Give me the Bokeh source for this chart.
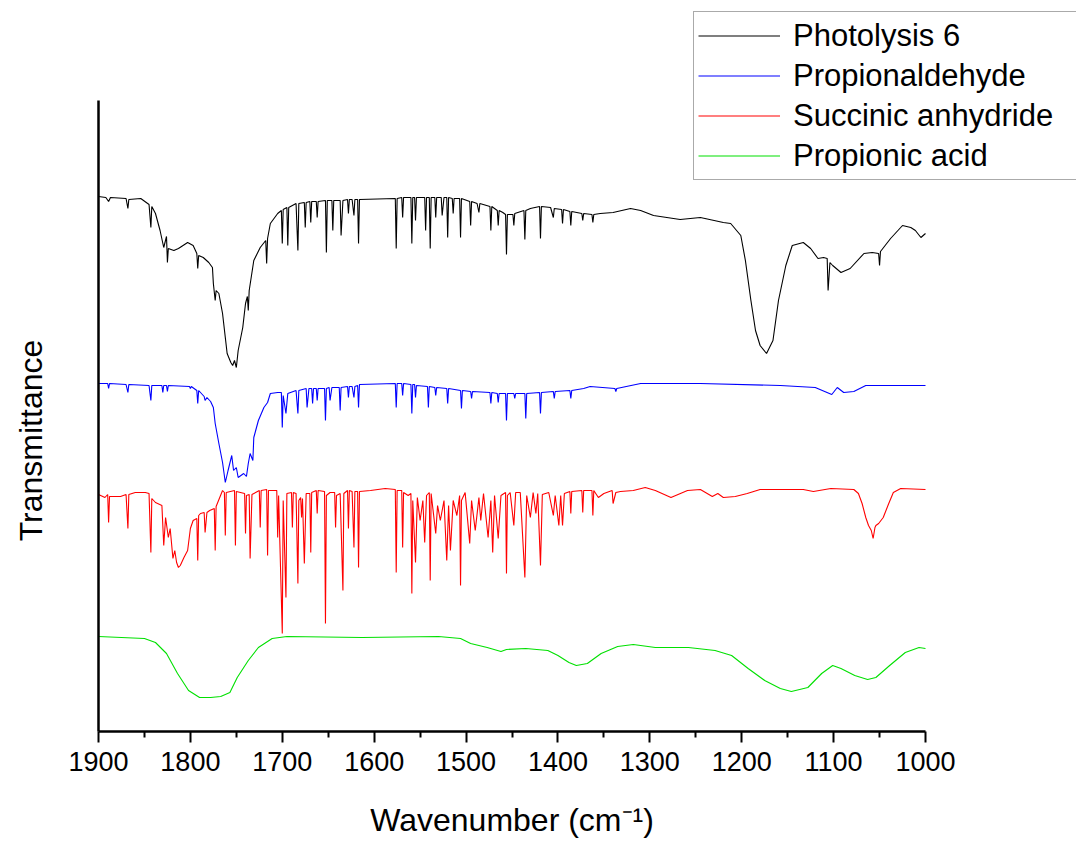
import math
from bokeh.plotting import figure
from bokeh.models import (Range1d, FixedTicker, Legend, LegendItem, ColumnDataSource,
                          LinearAxis, Label)
from bokeh.embed import file_html
from bokeh.resources import INLINE

# ---- data: wavenumber (cm-1), offset transmittance (arbitrary units) ----
PHOTOLYSIS_6 = [
    (1900, 535), (1892, 534), (1889, 530), (1887, 534), (1870, 533), (1868, 523), (1867, 532),
    (1854, 533), (1845, 527), (1843, 504), (1842, 525), (1838, 518), (1833, 501), (1829, 484),
    (1826, 495), (1825, 469), (1824, 483), (1818, 481), (1813, 483), (1803, 489), (1797, 486),
    (1793, 478), (1792, 463), (1791, 476), (1786, 474), (1780, 469), (1776, 464), (1775, 448),
    (1773, 431), (1772, 441), (1769, 438), (1765, 418), (1762, 394), (1760, 378), (1756, 369),
    (1754, 366), (1752, 371), (1750, 364), (1748, 381), (1743, 404), (1740, 428), (1738, 435),
    (1737, 421), (1736, 441), (1731, 471), (1724, 484), (1718, 491), (1717, 468), (1716, 493),
    (1713, 508), (1705, 518), (1701, 521), (1700, 488), (1699, 522), (1695, 524), (1694, 486),
    (1693, 524), (1685, 528), (1683, 481), (1682, 528), (1676, 529), (1675, 504), (1674, 529),
    (1670, 530), (1669, 509), (1668, 530), (1663, 530), (1662, 514), (1661, 530), (1653, 531),
    (1652, 479), (1651, 531), (1646, 531), (1645, 501), (1644, 531), (1637, 531), (1636, 496),
    (1634, 531), (1629, 532), (1628, 518), (1627, 532), (1624, 532), (1622, 516), (1621, 532),
    (1618, 532), (1617, 488), (1616, 532), (1577, 533), (1576, 483), (1575, 533), (1570, 534),
    (1569, 514), (1568, 534), (1560, 534), (1559, 488), (1558, 534), (1556, 534), (1555, 511),
    (1554, 534), (1545, 534), (1544, 501), (1543, 534), (1540, 534), (1539, 483), (1538, 534),
    (1534, 534), (1533, 514), (1532, 534), (1527, 534), (1526, 516), (1524, 534), (1521, 534),
    (1520, 494), (1519, 534), (1515, 533), (1514, 518), (1513, 533), (1507, 533), (1506, 494),
    (1505, 533), (1496, 530), (1495, 506), (1494, 530), (1488, 528), (1486, 519), (1485, 528),
    (1474, 525), (1473, 501), (1472, 525), (1466, 521), (1465, 506), (1464, 521), (1460, 519),
    (1457, 517), (1456, 477), (1455, 517), (1449, 517), (1448, 506), (1447, 518), (1437, 521),
    (1436, 492), (1435, 521), (1430, 523), (1420, 525), (1419, 493), (1418, 525), (1408, 524),
    (1405, 514), (1404, 523), (1396, 522), (1395, 508), (1394, 522), (1387, 520), (1386, 506),
    (1385, 520), (1374, 518), (1373, 511), (1372, 518), (1363, 517), (1362, 509), (1361, 517),
    (1354, 518), (1340, 519), (1321, 523), (1310, 521), (1296, 516), (1267, 512), (1245, 514),
    (1220, 509), (1212, 508), (1201, 496), (1196, 471), (1190, 431), (1185, 401), (1180, 386),
    (1173, 378), (1166, 391), (1160, 431), (1152, 466), (1145, 486), (1133, 489), (1125, 483),
    (1117, 473), (1111, 474), (1107, 473), (1106, 441), (1104, 469), (1101, 466), (1092, 459),
    (1082, 463), (1067, 478), (1058, 479), (1051, 478), (1050, 466), (1049, 480), (1038, 493),
    (1025, 506), (1016, 504), (1011, 501), (1005, 494), (1000, 498),
]

PROPIONALDEHYDE = [
    (1900, 348), (1890, 348), (1889, 343), (1888, 348), (1870, 347), (1868, 339), (1867, 347),
    (1845, 346), (1843, 331), (1842, 346), (1831, 346), (1830, 339), (1829, 346), (1826, 346),
    (1825, 340), (1824, 346), (1801, 345), (1800, 343), (1799, 345), (1793, 341), (1792, 328),
    (1791, 341), (1785, 335), (1784, 331), (1782, 334), (1778, 330), (1775, 324), (1773, 308),
    (1769, 288), (1765, 269), (1762, 249), (1759, 261), (1755, 276), (1753, 261), (1750, 264),
    (1748, 254), (1742, 258), (1739, 255), (1737, 268), (1735, 278), (1732, 271), (1731, 294),
    (1726, 311), (1720, 324), (1716, 329), (1713, 338), (1705, 339), (1701, 339), (1700, 304),
    (1699, 336), (1696, 318), (1694, 338), (1685, 341), (1683, 318), (1682, 341), (1674, 343),
    (1673, 324), (1671, 343), (1668, 343), (1667, 328), (1666, 343), (1663, 343), (1662, 331),
    (1661, 343), (1654, 343), (1653, 311), (1652, 343), (1649, 344), (1648, 331), (1646, 344),
    (1638, 344), (1637, 321), (1636, 344), (1629, 345), (1628, 334), (1627, 345), (1624, 345),
    (1622, 334), (1621, 345), (1618, 346), (1617, 324), (1616, 347), (1577, 348), (1576, 324),
    (1575, 348), (1570, 348), (1569, 336), (1568, 348), (1560, 347), (1559, 318), (1558, 347),
    (1556, 347), (1555, 334), (1554, 346), (1542, 345), (1541, 324), (1540, 345), (1534, 344),
    (1533, 336), (1532, 344), (1521, 343), (1520, 328), (1519, 343), (1506, 341), (1505, 323),
    (1504, 341), (1495, 340), (1494, 333), (1493, 340), (1474, 339), (1473, 328), (1472, 339),
    (1466, 338), (1465, 329), (1464, 338), (1457, 338), (1456, 311), (1455, 338), (1448, 338),
    (1447, 333), (1446, 338), (1436, 338), (1435, 313), (1434, 338), (1420, 339), (1419, 318),
    (1418, 339), (1405, 340), (1404, 333), (1403, 340), (1387, 341), (1386, 333), (1385, 341),
    (1372, 343), (1365, 345), (1338, 343), (1337, 340), (1336, 343), (1310, 348), (1245, 348),
    (1158, 346), (1120, 344), (1102, 337), (1096, 344), (1089, 339), (1078, 340), (1065, 346),
    (1000, 346),
]

SUCCINIC_ANHYDRIDE = [
    (1900, 237), (1893, 234), (1890, 237), (1889, 209), (1888, 235), (1876, 235), (1870, 237),
    (1868, 203), (1867, 237), (1860, 239), (1849, 239), (1845, 238), (1843, 179), (1842, 233),
    (1838, 229), (1831, 226), (1829, 186), (1827, 214), (1824, 194), (1822, 203), (1819, 173),
    (1817, 181), (1815, 169), (1813, 164), (1811, 166), (1807, 174), (1803, 181), (1800, 203),
    (1797, 211), (1793, 213), (1792, 171), (1791, 216), (1789, 218), (1785, 219), (1784, 199),
    (1782, 219), (1779, 221), (1774, 223), (1773, 181), (1772, 225), (1765, 241), (1763, 239),
    (1762, 196), (1761, 239), (1752, 241), (1751, 186), (1750, 240), (1741, 238), (1740, 198),
    (1739, 236), (1736, 237), (1735, 173), (1733, 237), (1725, 241), (1724, 204), (1723, 241),
    (1717, 242), (1716, 176), (1715, 241), (1706, 241), (1705, 194), (1704, 236), (1700, 98),
    (1699, 231), (1696, 134), (1695, 238), (1690, 239), (1689, 204), (1688, 239), (1685, 238),
    (1683, 148), (1682, 231), (1680, 234), (1679, 214), (1678, 233), (1676, 168), (1674, 238),
    (1670, 238), (1669, 179), (1668, 239), (1663, 241), (1662, 218), (1661, 241), (1654, 240),
    (1653, 108), (1652, 236), (1648, 239), (1643, 239), (1642, 204), (1641, 236), (1637, 238),
    (1634, 141), (1633, 238), (1629, 241), (1628, 203), (1627, 241), (1624, 240), (1622, 184),
    (1621, 240), (1618, 240), (1617, 164), (1616, 240), (1604, 241), (1588, 243), (1577, 242),
    (1576, 159), (1575, 241), (1570, 241), (1569, 184), (1568, 239), (1563, 236), (1560, 238),
    (1559, 138), (1558, 231), (1555, 169), (1553, 234), (1550, 211), (1547, 231), (1545, 189),
    (1543, 236), (1540, 239), (1539, 151), (1538, 238), (1533, 198), (1531, 226), (1528, 211),
    (1524, 231), (1521, 171), (1519, 226), (1517, 181), (1514, 231), (1510, 216), (1507, 236),
    (1506, 146), (1505, 231), (1501, 239), (1496, 188), (1494, 231), (1490, 201), (1486, 234),
    (1484, 211), (1481, 238), (1476, 194), (1473, 231), (1471, 179), (1469, 236), (1465, 193),
    (1462, 236), (1457, 239), (1456, 158), (1455, 236), (1452, 239), (1448, 206), (1446, 239),
    (1441, 239), (1436, 154), (1434, 236), (1430, 214), (1427, 239), (1424, 218), (1422, 238),
    (1419, 166), (1417, 237), (1410, 239), (1405, 216), (1403, 236), (1399, 206), (1397, 236),
    (1395, 206), (1393, 238), (1387, 240), (1386, 218), (1385, 240), (1374, 241), (1373, 219),
    (1372, 241), (1363, 241), (1362, 216), (1361, 241), (1356, 234), (1350, 238), (1341, 241),
    (1340, 228), (1337, 239), (1332, 240), (1318, 241), (1305, 244), (1294, 241), (1277, 234),
    (1259, 241), (1245, 242), (1232, 235), (1226, 238), (1220, 234), (1207, 235), (1194, 238),
    (1180, 242), (1133, 242), (1122, 240), (1103, 243), (1078, 242), (1073, 238), (1069, 228),
    (1065, 214), (1062, 206), (1059, 201), (1057, 193), (1055, 204), (1054, 206), (1051, 208),
    (1046, 214), (1040, 228), (1035, 239), (1027, 243), (1000, 242),
]

PROPIONIC_ACID = [
    (1900, 95), (1850, 93), (1838, 89), (1826, 78), (1814, 58), (1802, 41), (1790, 34),
    (1778, 34), (1767, 35), (1757, 39), (1749, 54), (1737, 71), (1726, 84), (1711, 93),
    (1695, 95), (1613, 94), (1530, 95), (1506, 93), (1495, 88), (1477, 84), (1462, 80),
    (1456, 82), (1435, 83), (1411, 81), (1400, 76), (1388, 69), (1380, 66), (1368, 68),
    (1353, 78), (1335, 85), (1318, 87), (1294, 84), (1258, 84), (1229, 81), (1211, 76),
    (1193, 63), (1175, 51), (1158, 43), (1146, 40), (1128, 44), (1113, 58), (1101, 66),
    (1092, 63), (1077, 56), (1063, 52), (1054, 54), (1039, 66), (1022, 79), (1007, 84),
    (1000, 83),
]

SERIES_NAMES = ["Photolysis 6", "Propionaldehyde", "Succinic anhydride", "Propionic acid"]
SERIES_DATA = [PHOTOLYSIS_6, PROPIONALDEHYDE, SUCCINIC_ANHYDRIDE, PROPIONIC_ACID]
SERIES_COLORS = ["#000000", "#0000ff", "#ff0000", "#00e000"]

X_TICKS = [1900, 1800, 1700, 1600, 1500, 1400, 1300, 1200, 1100, 1000]
X_MINOR = [1850, 1750, 1650, 1550, 1450, 1350, 1250, 1150, 1050]
X_LIMITS = (1900, 1000)
Y_LIMITS = (0, 631)

FONT = "Liberation Sans"

# the frame covers the whole canvas; the axes sit at fixed locations inside it
CM_PER_PX = (X_LIMITS[0] - X_LIMITS[1]) / 827.0
Y_PER_PX = (Y_LIMITS[1] - Y_LIMITS[0]) / 631.0
x_range = Range1d(X_LIMITS[0] + 98 * CM_PER_PX, X_LIMITS[1] - 151 * CM_PER_PX)
y_range = Range1d(Y_LIMITS[0] - 110 * Y_PER_PX, Y_LIMITS[1] + 100 * Y_PER_PX)

p = figure(width=1076, height=841, x_range=x_range, y_range=y_range,
           output_backend="svg", toolbar_location=None,
           x_axis_location=None, y_axis_location=None,
           min_border=0, min_border_left=0, min_border_right=0,
           min_border_top=0, min_border_bottom=0)
p.outline_line_color = None
p.background_fill_color = "white"
p.border_fill_color = "white"
for g in p.grid:
    g.visible = False
    g.grid_line_color = None

renderers = []
for name, data, color in zip(SERIES_NAMES, SERIES_DATA, SERIES_COLORS):
    src = ColumnDataSource(dict(x=[d[0] for d in data], y=[d[1] for d in data]))
    r = p.line("x", "y", source=src, line_color=color, line_width=1.1)
    renderers.append((name, r))

# x axis
xa = LinearAxis(fixed_location=Y_LIMITS[0], bounds=(X_LIMITS[1], X_LIMITS[0]),
                ticker=FixedTicker(ticks=X_TICKS, minor_ticks=X_MINOR))
xa.axis_line_width = 2.5
xa.axis_line_color = "black"
xa.major_tick_line_width = 2
xa.major_tick_line_color = "black"
xa.major_tick_out = 11
xa.major_tick_in = 0
xa.minor_tick_line_width = 2
xa.minor_tick_line_color = "black"
xa.minor_tick_out = 6
xa.minor_tick_in = 0
xa.major_label_text_font = FONT
xa.major_label_text_font_size = "27px"
xa.major_label_text_color = "black"
xa.major_label_standoff = 9
p.add_layout(xa, "below")

# y axis (no ticks)
ya = LinearAxis(fixed_location=X_LIMITS[0], bounds=Y_LIMITS,
                ticker=FixedTicker(ticks=[]))
ya.axis_line_width = 2.5
ya.axis_line_color = "black"
ya.major_tick_line_color = None
ya.minor_tick_line_color = None
ya.major_label_text_font_size = "0px"
p.add_layout(ya, "left")

# axis titles
p.add_layout(Label(x=(X_LIMITS[0] + X_LIMITS[1]) / 2, y=Y_LIMITS[0] - 88 * Y_PER_PX,
                   text="Wavenumber (cm\u207b\u00b9)", text_align="center",
                   text_baseline="middle", text_font=FONT, text_font_size="32px",
                   text_color="black"))
p.add_layout(Label(x=X_LIMITS[0] + 68 * CM_PER_PX, y=Y_LIMITS[0] + 291 * Y_PER_PX,
                   text="Transmittance", angle=math.pi / 2, text_align="center",
                   text_baseline="middle", text_font=FONT, text_font_size="32px",
                   text_color="black"))

legend = Legend(items=[LegendItem(label=n, renderers=[r]) for n, r in renderers],
                location=(693, 661))
legend.label_text_font = FONT
legend.label_text_font_size = "31px"
legend.label_text_color = "black"
legend.glyph_width = 82
legend.glyph_height = 39
legend.label_height = 39
legend.label_width = 300
legend.label_standoff = 13
legend.spacing = 1
legend.padding = 4
legend.margin = 0
legend.border_line_color = "#555555"
legend.border_line_width = 1.5
legend.background_fill_color = "white"
legend.background_fill_alpha = 1.0
p.add_layout(legend)

open("out.html", "w").write(file_html(p, INLINE))
